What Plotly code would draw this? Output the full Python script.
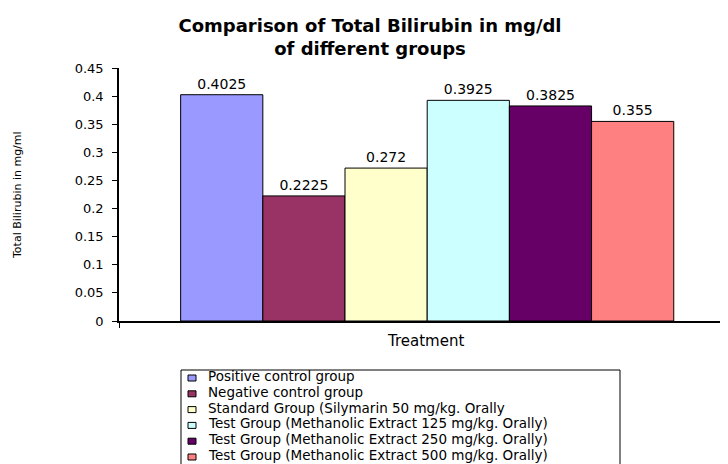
import plotly.graph_objects as go

# ---- data ----
categories = ["Treatment"]
groups = [
    "Positive control group",
    "Negative control group",
    "Standard Group (Silymarin 50 mg/kg. Orally",
    "Test Group (Methanolic Extract 125 mg/kg. Orally)",
    "Test Group (Methanolic Extract 250 mg/kg. Orally)",
    "Test Group (Methanolic Extract 500 mg/kg. Orally)",
]
values = [0.4025, 0.2225, 0.272, 0.3925, 0.3825, 0.355]
value_labels = ["0.4025", "0.2225", "0.272", "0.3925", "0.3825", "0.355"]
colors = ["#9999FF", "#993366", "#FFFFCC", "#CCFFFF", "#660066", "#FF8080"]
y_ticks = [0, 0.05, 0.1, 0.15, 0.2, 0.25, 0.3, 0.35, 0.4, 0.45]
y_tick_labels = ["0", "0.05", "0.1", "0.15", "0.2", "0.25", "0.3", "0.35", "0.4", "0.45"]

# page body has an 8px margin; work in reference-pixel coordinates and shift
OFF = 8
W, H = 728 - OFF, 464 - OFF
ML, MR = 119 - OFF, 0
MT, MB = 68 - OFF, H - (321 - OFF)
PW, PH = W - ML - MR, H - MT - MB


def px(x):
    return (x - OFF - ML) / PW


def py(y):
    return (H - MB - (y - OFF)) / PH


FONT = "DejaVu Sans"

fig = go.Figure()
for name, v, lab, c in zip(groups, values, value_labels, colors):
    fig.add_trace(go.Bar(
        x=categories, y=[v], name=name, text=[lab],
        textposition="outside", cliponaxis=False,
        textfont=dict(family=FONT, size=14, color="black"),
        marker=dict(color=c, line=dict(color="black", width=1)),
        showlegend=False,
    ))

shapes = []
annotations = []

# manual legend
leg_left, leg_top, leg_right, leg_bottom = 181, 370, 620, 480
shapes.append(dict(type="rect", xref="paper", yref="paper",
                   x0=px(leg_left), x1=px(leg_right), y0=py(leg_bottom), y1=py(leg_top),
                   line=dict(color="black", width=1), fillcolor="white", layer="above"))
row0, row_step = 376, 15.8
for i, (name, c) in enumerate(zip(groups, colors)):
    ry = row0 + i * row_step
    shapes.append(dict(type="rect", xref="paper", yref="paper",
                       x0=px(188), x1=px(196), y0=py(ry + 5), y1=py(ry - 1),
                       line=dict(color="black", width=1), fillcolor=c, layer="above"))
    annotations.append(dict(xref="paper", yref="paper", x=px(206), y=py(ry),
                            xanchor="left", yanchor="middle", showarrow=False,
                            text=name, font=dict(family=FONT, size=13.5, color="black")))

# axis titles
annotations.append(dict(xref="paper", yref="paper", x=px(17), y=py(195),
                        xanchor="center", yanchor="middle", showarrow=False, textangle=-90,
                        text="Total Bilirubin in mg/ml", font=dict(family=FONT, size=11, color="black")))
annotations.append(dict(xref="paper", yref="paper", x=px(425), y=py(341),
                        xanchor="center", yanchor="middle", showarrow=False,
                        text="Treatment", font=dict(family=FONT, size=15, color="black")))

fig.update_layout(
    width=W, height=H,
    margin=dict(l=ML, r=MR, t=MT, b=MB, pad=0),
    paper_bgcolor="white", plot_bgcolor="white",
    barmode="group", bargap=0.2, bargroupgap=0,
    title=dict(text="<b>Comparison of Total Bilirubin in mg/dl<br>of different groups</b>",
               x=(370 - OFF) / W, xanchor="center", xref="container",
               y=1 - (31.5 - OFF) / H, yanchor="middle", yref="container",
               font=dict(family=FONT, size=18, color="black")),
    xaxis=dict(range=[-0.5, 0.488], showticklabels=False, ticks="outside", tickson="boundaries",
               ticklen=5, tickcolor="black", showline=True, linecolor="black", linewidth=1.5,
               showgrid=False, zeroline=False, automargin=False, fixedrange=True),
    yaxis=dict(range=[0, 0.45], tickvals=y_ticks, ticktext=y_tick_labels, ticks="outside",
               ticklen=5, tickcolor="black", showline=True, linecolor="black", linewidth=1.5,
               showgrid=False, zeroline=False, automargin=False, ticklabelstandoff=6,
               tickfont=dict(family=FONT, size=13, color="black")),
    shapes=shapes, annotations=annotations,
    showlegend=False,
)

fig.write_html("out.html")
